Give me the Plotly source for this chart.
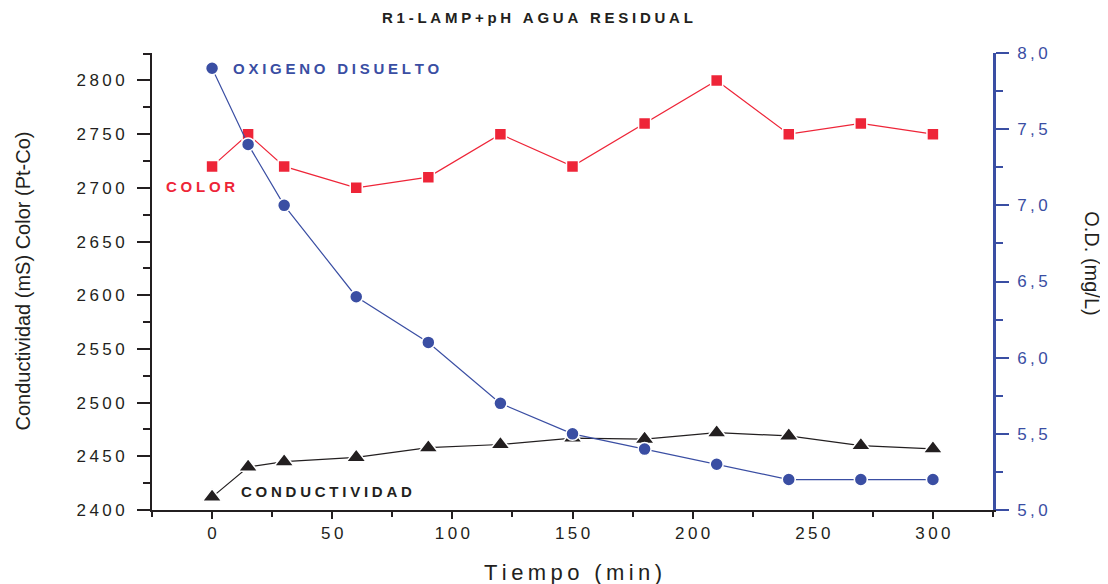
import plotly.graph_objects as go

tiempo = [0, 15, 30, 60, 90, 120, 150, 180, 210, 240, 270, 300]
color_ptco = [2720, 2750, 2720, 2700, 2710, 2750, 2720, 2760, 2800, 2750, 2760, 2750]
conductividad = [2412, 2440, 2445, 2449, 2458, 2461, 2467, 2466, 2472, 2469, 2460, 2457]
oxigeno = [7.9, 7.4, 7.0, 6.4, 6.1, 5.7, 5.5, 5.4, 5.3, 5.2, 5.2, 5.2]

x_ticks = [0, 50, 100, 150, 200, 250, 300]
y_ticks = [2400, 2450, 2500, 2550, 2600, 2650, 2700, 2750, 2800]
y2_ticks = [5.0, 5.5, 6.0, 6.5, 7.0, 7.5, 8.0]
y2_labels = ["5,0", "5,5", "6,0", "6,5", "7,0", "7,5", "8,0"]

RED = "#EE2538"
BLUE = "#3A4EA3"
BLACK = "#231F20"
FONT = "Liberation Sans, Arial, sans-serif"
TS = "\u2009"     # thin space
QS = "\u2005"     # four-per-em space


def sp(s, gap=TS):
    return gap.join(s)


fig = go.Figure()
fig.add_trace(go.Scatter(
    x=tiempo, y=color_ptco, mode="lines+markers", name="COLOR",
    line=dict(color=RED, width=1.2),
    marker=dict(symbol="square", size=12, color=RED, line=dict(color="white", width=1.5)),
))
fig.add_trace(go.Scatter(
    x=tiempo, y=conductividad, mode="lines+markers", name="CONDUCTIVIDAD",
    line=dict(color=BLACK, width=1.2),
    marker=dict(symbol="triangle-up", size=17, color=BLACK, line=dict(color="white", width=1.5)),
))
fig.add_trace(go.Scatter(
    x=tiempo, y=oxigeno, mode="lines+markers", name="OXIGENO DISUELTO", yaxis="y2",
    line=dict(color=BLUE, width=1.2),
    marker=dict(symbol="circle", size=13, color=BLUE, line=dict(color="white", width=1.5)),
))

fig.update_layout(
    width=1100, height=576,
    margin=dict(l=144, r=115, t=45, b=74, autoexpand=False),
    paper_bgcolor="white", plot_bgcolor="white",
    showlegend=False,
    font=dict(family=FONT, color=BLACK, size=17),
    xaxis=dict(
        range=[-25, 325], showgrid=False, zeroline=False, automargin=False,
        showline=True, linecolor=BLACK, linewidth=2,
        ticks="outside", ticklen=7, tickwidth=1.5, tickcolor=BLACK,
        tickvals=x_ticks, ticktext=[sp(str(v)) for v in x_ticks],
        tickfont=dict(size=17, color=BLACK),
        minor=dict(dtick=25, tick0=0, ticks="outside", ticklen=5, tickcolor=BLACK, tickwidth=1.5),
    ),
    xaxis2=dict(
        range=[-25, 325], overlaying="x", side="top", anchor="y", automargin=False,
        showgrid=False, zeroline=False, showline=True, linecolor=BLACK, linewidth=2,
        ticks="inside", ticklen=4, tickcolor=BLACK, tickwidth=1.2,
        tickvals=[-25, 0, 25, 50, 75, 100, 125, 150, 175, 200, 225, 250, 275, 300, 325],
        showticklabels=False,
    ),
    yaxis=dict(
        range=[2400, 2825.6], showgrid=False, zeroline=False, automargin=False,
        showline=True, linecolor=BLACK, linewidth=2,
        ticks="outside", ticklen=13, tickwidth=1.5, tickcolor=BLACK,
        tickvals=y_ticks, ticktext=[sp(str(v)) for v in y_ticks],
        tickfont=dict(size=17, color=BLACK),
        ticklabelstandoff=9,
        minor=dict(dtick=25, tick0=2400, ticks="outside", ticklen=7, tickcolor=BLACK, tickwidth=1.5),
    ),
    yaxis2=dict(
        range=[5.0, 8.0], overlaying="y", side="right", anchor="x", automargin=False,
        showgrid=False, zeroline=False,
        showline=True, linecolor=BLUE, linewidth=2.5,
        ticks="outside", ticklen=13, tickwidth=1.5, tickcolor=BLUE,
        tickvals=y2_ticks, ticktext=[sp(t) for t in y2_labels],
        tickfont=dict(size=17, color=BLUE),
        ticklabelstandoff=5,
        minor=dict(dtick=0.25, tick0=5.0, ticks="outside", ticklen=7, tickcolor=BLUE, tickwidth=1.5),
    ),
    annotations=[
        dict(text="<b>" + sp("R1-LAMP+pH AGUA RESIDUAL", QS) + "</b>", xref="paper", yref="paper",
             x=0.458, y=1.0, yshift=36, xanchor="center", yanchor="middle", showarrow=False,
             font=dict(size=15, color=BLACK, family=FONT)),
        dict(text="<b>" + sp("OXIGENO DISUELTO", QS) + "</b>", xref="x", yref="y2", x=8, y=7.9,
             xanchor="left", yanchor="middle", showarrow=False,
             font=dict(size=15, color=BLUE, family=FONT)),
        dict(text="<b>" + sp("COLOR", QS) + "</b>", xref="x", yref="y", x=-20, y=2701,
             xanchor="left", yanchor="middle", showarrow=False,
             font=dict(size=15, color=RED, family=FONT)),
        dict(text="<b>" + sp("CONDUCTIVIDAD", QS) + "</b>", xref="x", yref="y", x=11, y=2417,
             xanchor="left", yanchor="middle", showarrow=False,
             font=dict(size=15, color=BLACK, family=FONT)),
        dict(text=sp("Tiempo (min)"), xref="paper", yref="paper",
             x=0.5, y=0.0, yshift=-62, xanchor="center", yanchor="middle",
             showarrow=False, font=dict(size=22, color=BLACK, family=FONT)),
        dict(text="Conductividad (mS) Color (Pt-Co)", xref="paper", yref="paper",
             x=0.0, xshift=-130, y=0.5, xanchor="center", yanchor="middle", textangle=-90,
             showarrow=False, font=dict(size=20, color=BLACK, family=FONT)),
        dict(text="O.D. (mg/L)", xref="paper", yref="paper", x=1.0, xshift=99, y=0.54,
             xanchor="center", yanchor="middle", textangle=90, showarrow=False,
             font=dict(size=20, color=BLACK, family=FONT)),
    ],
)

fig.write_html("out.html")
